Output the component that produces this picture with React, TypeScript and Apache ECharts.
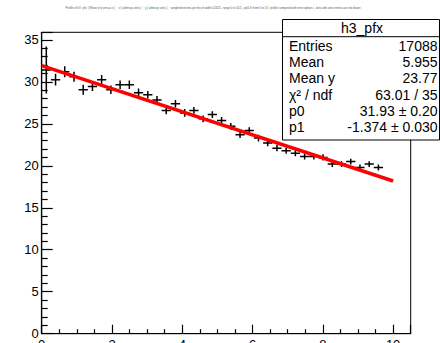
import React, { useEffect, useRef } from "react";
import * as echarts from "echarts";

// Profile bin centres (40 bins of width 0.2625 on [0, 10.5]); only the filled ones
const binCenters = [
  0.131, 0.394, 0.656, 0.919, 1.181, 1.444, 1.706, 1.969, 2.231, 2.494,
  2.756, 3.019, 3.281, 3.544, 3.806, 4.069, 4.331, 4.594, 4.856, 5.119,
  5.381, 5.644, 5.906, 6.169, 6.431, 6.694, 6.956, 7.219, 7.481, 7.744,
  8.006, 8.269, 8.531, 8.794, 9.056, 9.319, 9.581,
];
const binValues = [
  31.4, 30.25, 31.2, 30.6, 29.06, 29.45, 30.25, 29.06, 29.66, 29.66,
  28.7, 28.47, 27.85, 26.6, 27.4, 26.3, 26.6, 25.6, 26.1, 25.4,
  24.7, 23.7, 24.2, 23.3, 22.7, 22.1, 21.8, 21.5, 21.1, 21.1,
  21.0, 20.2, 20.2, 20.5, 19.8, 20.2, 19.8,
];
const binErrors = [
  2.8, 0.7, 0.65, 0.6, 0.6, 0.55, 0.55, 0.5, 0.5, 0.5,
  0.5, 0.45, 0.45, 0.45, 0.45, 0.45, 0.4, 0.4, 0.4, 0.4,
  0.4, 0.4, 0.4, 0.4, 0.38, 0.38, 0.38, 0.36, 0.36, 0.36,
  0.36, 0.35, 0.35, 0.35, 0.35, 0.35, 0.35,
];
const binHalfWidth = 0.13125;

// Fit parameters (pol1) and fit range
const p0 = 31.93;
const p1 = -1.374;
const fitRange = [0, 10];

const statLabels = ["Entries", "Mean", "Mean y", "\u03c7\u00b2 / ndf", "p0", "p1"];
const statValues = ["17088", "5.955", "23.77", "63.01 / 35", "31.93 \u00b1 0.20", "-1.374 \u00b1 0.030"];
const histName = "h3_pfx";
const titleText =
  "Profile of h3 : pfx  ( Mean of y versus x )  ;  x [ arbitrary units ]  ;  y [ arbitrary units ]  ;  weighted entries per bin of width 0.2625 , range 0 to 10.5 , pol1 fit from 0 to 10 ; profile computed with error option s , bins with zero entries are not drawn";

const xTickLabels = [0, 2, 4, 6, 8, 10];
const yTickLabels = [0, 5, 10, 15, 20, 25, 30, 35];

export default function App() {
  const ref = useRef<HTMLDivElement>(null);
  useEffect(() => {
    if (!ref.current) return;
    const chart = echarts.init(ref.current, undefined, { renderer: "svg" });
    const font = "Liberation Sans, Arial, Helvetica, sans-serif";
    const pts = binCenters.map((x, i) => [x, binValues[i], binHalfWidth, binErrors[i]]);
    const fitData = fitRange.map((x) => [x, p0 + p1 * x]);

    const rowY0 = 45.7;
    const rowDy = 16.3;
    const statChildren: any[] = [
      {
        type: "rect",
        shape: { x: 282.5, y: 19.5, width: 157, height: 120.5 },
        style: { fill: "#fff", stroke: "#000", lineWidth: 1 },
      },
      {
        type: "line",
        shape: { x1: 282.5, y1: 36.7, x2: 439.5, y2: 36.7 },
        style: { stroke: "#000", lineWidth: 1 },
      },
      {
        type: "text",
        x: 362,
        y: 28.2,
        style: { text: histName, fontSize: 14, fontFamily: font, fill: "#000", align: "center", verticalAlign: "middle" },
      },
    ];
    statLabels.forEach((l, i) => {
      statChildren.push({
        type: "text",
        x: 289,
        y: rowY0 + i * rowDy,
        style: { text: l, fontSize: 14, fontFamily: font, fill: "#000", align: "left", verticalAlign: "middle" },
      });
      statChildren.push({
        type: "text",
        x: 437.5,
        y: rowY0 + i * rowDy,
        style: { text: statValues[i], fontSize: 14, fontFamily: font, fill: "#000", align: "right", verticalAlign: "middle" },
      });
    });

    chart.setOption({
      animation: false,
      backgroundColor: "#fff",
      grid: {
        left: 41.7,
        top: 32.3,
        width: 369,
        height: 301.4,
        show: true,
        borderColor: "#000",
        borderWidth: 1,
        backgroundColor: "transparent",
        containLabel: false,
        outerBoundsMode: "none",
      },
      xAxis: {
        type: "value",
        min: 0,
        max: 10.5,
        interval: 2,
        axisLine: { show: true, onZero: false, lineStyle: { color: "#000", width: 1.2 } },
        axisTick: { show: true, inside: true, length: 9, lineStyle: { color: "#000", width: 1.2 } },
        minorTick: { show: true, splitNumber: 4, length: 4.5, lineStyle: { color: "#000", width: 1.2 } },
        splitLine: { show: false },
        axisLabel: {
          color: "#000",
          fontSize: 13,
          fontFamily: font,
          margin: 4,
          verticalAlign: "top",
          formatter: (v: number) => (xTickLabels.indexOf(v) >= 0 ? String(v) : ""),
        },
      },
      yAxis: {
        type: "value",
        min: 0,
        max: 35.9,
        interval: 5,
        axisLine: { show: true, onZero: false, lineStyle: { color: "#000", width: 1.2 } },
        axisTick: { show: true, inside: true, length: 11, lineStyle: { color: "#000", width: 1.2 } },
        minorTick: { show: true, splitNumber: 5, length: 6, lineStyle: { color: "#000", width: 1.2 } },
        splitLine: { show: false },
        axisLabel: {
          color: "#000",
          fontSize: 13,
          fontFamily: font,
          margin: 3,
          formatter: (v: number) => (yTickLabels.indexOf(v) >= 0 ? String(v) : ""),
        },
      },
      graphic: [
        {
          type: "text",
          x: 213,
          y: 8,
          style: { text: titleText, fontSize: 2.8, fontFamily: font, fill: "#555", align: "center", verticalAlign: "middle" },
          z: 100,
        },
        { type: "group", children: statChildren, z: 100 },
      ],
      series: [
        {
          type: "custom",
          data: pts,
          clip: true,
          renderItem: (params: any, api: any) => {
            const x = api.value(0);
            const y = api.value(1);
            const ex = api.value(2);
            const ey = api.value(3);
            const l = api.coord([x - ex, y]);
            const r = api.coord([x + ex, y]);
            const t = api.coord([x, y + ey]);
            const b = api.coord([x, y - ey]);
            return {
              type: "group",
              children: [
                { type: "line", shape: { x1: l[0], y1: l[1], x2: r[0], y2: r[1] }, style: { stroke: "#000", lineWidth: 1.5 } },
                { type: "line", shape: { x1: t[0], y1: t[1], x2: b[0], y2: b[1] }, style: { stroke: "#000", lineWidth: 1.5 } },
              ],
            };
          },
          z: 2,
        },
        {
          type: "line",
          data: fitData,
          showSymbol: false,
          lineStyle: { color: "#ff0000", width: 3.5 },
          z: 3,
        },
      ],
    });
    return () => chart.dispose();
  }, []);
  return <div ref={ref} style={{ position: "fixed", left: 0, top: 0, width: 440, height: 343 }} />;
}
